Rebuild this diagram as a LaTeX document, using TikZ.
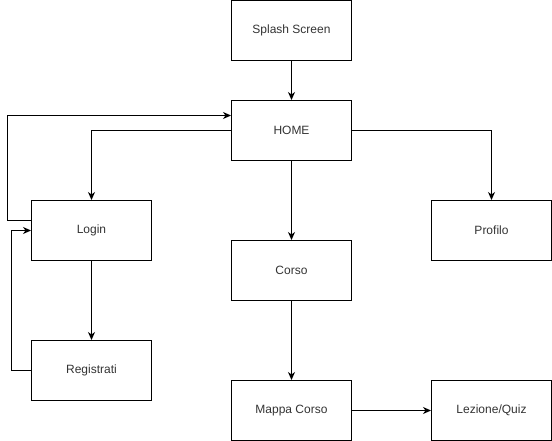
\documentclass[tikz,border=0pt]{standalone}
\usepackage{fontspec}
\setmainfont{Liberation Sans}
\usetikzlibrary{arrows.meta}
\begin{document}
\begin{tikzpicture}[x=1pt,y=-1pt,
  box/.style={draw, line width=1pt, minimum width=120pt, minimum height=60pt, inner sep=0pt,
    font=\fontsize{12pt}{14pt}\selectfont, text=black!80},
  conn/.style={line width=1pt, -{Stealth[length=8pt,width=7pt,inset=2.5pt]}}]
\useasboundingbox (0,0) rectangle (552,441);
\node[box] (splash) at (291.5,30.5) {Splash Screen};
\node[box] (home) at (291.5,130.5) {HOME};
\node[box] (login) at (91.5,230.5) {Login};
\node[box] (profilo) at (491.5,230.5) {Profilo};
\node[box] (corso) at (291.5,270.5) {Corso};
\node[box] (reg) at (91.5,370.5) {Registrati};
\node[box] (mappa) at (291.5,410.5) {Mappa Corso};
\node[box] (lez) at (491.5,410.5) {Lezione/Quiz};
\draw[conn] (splash) -- (home);
\draw[conn] (home.west) -| (login.north);
\draw[conn] (home.east) -| (profilo.north);
\draw[conn] (home) -- (corso);
\draw[conn] (login.west|-0,220.5) -- (7.5,220.5) |- (home.west|-0,115.5);
\draw[conn] (login) -- (reg);
\draw[conn] (reg.west) -- (11.5,370.5) |- (login.west);
\draw[conn] (corso) -- (mappa);
\draw[conn] (mappa) -- (lez);
\end{tikzpicture}
\end{document}
